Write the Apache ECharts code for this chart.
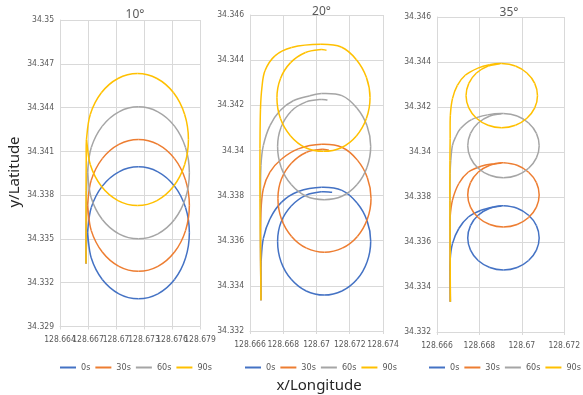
<!DOCTYPE html>
<html>
<head>
<meta charset="utf-8">
<script src="https://cdn.jsdelivr.net/npm/echarts@6/dist/echarts.min.js"></script>
<style>html,body{margin:0;padding:0;background:#fff;}#c{width:583px;height:395px;}</style>
</head>
<body>
<div id="c"></div>
<script>
// ---- labels ----
const panelTitles = ['10°', '20°', '35°'];
const seriesNames = ['0s', '30s', '60s', '90s'];
const xTitle = 'x/Longitude';
const yTitle = 'y/Latitude';

// ---- axis ranges (min, max, interval) ----
const xRange10 = [128.664, 128.679, 0.003];
const yRange10 = [34.329, 34.35, 0.003];
const xRange20 = [128.666, 128.674, 0.002];
const yRange20 = [34.332, 34.346, 0.002];
const xRange35 = [128.666, 128.672, 0.002];
const yRange35 = [34.332, 34.346, 0.002];
// 10° x tick labels (they overlap in the original, so they are split over two label layers)
const xTicks10a = [128.664, 128.67, 128.673, 128.679];
const xTicks10b = [128.667, 128.676];

// ---- 10° trajectories [lon, lat] ----
const p10_0s = [[128.66679,34.33331],[128.66682,34.33440],[128.66694,34.33542],[128.66735,34.33715],[128.66853,34.33862],[128.67031,34.3396],[128.6724,34.33994],[128.67449,34.3396],[128.67627,34.33862],[128.67745,34.33715],[128.67786,34.33542],[128.67745,34.33369],[128.67627,34.33222],[128.67449,34.33124],[128.6724,34.3309],[128.67031,34.33124],[128.66853,34.33222],[128.66735,34.33369],[128.66694,34.33542]];
const p10_30s = [[128.66679,34.33331],[128.6668,34.335],[128.66684,34.3363],[128.66694,34.3373],[128.66735,34.33903],[128.66853,34.3405],[128.67031,34.34148],[128.6724,34.34182],[128.67449,34.34148],[128.67627,34.3405],[128.67745,34.33903],[128.67786,34.3373],[128.67745,34.33557],[128.67627,34.3341],[128.67449,34.33312],[128.6724,34.33278],[128.67031,34.33312],[128.66853,34.3341],[128.66735,34.33557],[128.66694,34.3373]];
const p10_60s = [[128.66679,34.33331],[128.66679,34.33559],[128.66684,34.338],[128.66694,34.33953],[128.66735,34.34126],[128.66853,34.34273],[128.67031,34.34371],[128.6724,34.34405],[128.67449,34.34371],[128.67627,34.34273],[128.67745,34.34126],[128.67786,34.33953],[128.67745,34.3378],[128.67627,34.33633],[128.67449,34.33535],[128.6724,34.33501],[128.67031,34.33535],[128.66853,34.33633],[128.66735,34.3378],[128.66694,34.33953]];
const p10_90s = [[128.66679,34.33331],[128.66679,34.33559],[128.66679,34.33833],[128.66681,34.3404],[128.66684,34.34181],[128.66725,34.34354],[128.66843,34.34501],[128.67021,34.34599],[128.6723,34.34633],[128.67439,34.34599],[128.67617,34.34501],[128.67735,34.34354],[128.67776,34.34181],[128.67735,34.34008],[128.67617,34.33861],[128.67439,34.33763],[128.6723,34.33729],[128.67021,34.33763],[128.66843,34.33861],[128.66725,34.34008],[128.66684,34.34181]];

// ---- 20° trajectories ----
const p20_0s = [[128.66666,34.33336],[128.66666,34.33423],[128.66667,34.33507],[128.6668,34.33609],[128.6672,34.33697],[128.6679,34.33771],[128.6689,34.33818],[128.6703,34.33837],[128.67153,34.33823],[128.67244,34.33767],[128.67304,34.33689],[128.67326,34.33598],[128.67304,34.33506],[128.67244,34.33429],[128.67153,34.33377],[128.67046,34.33359],[128.66938,34.33377],[128.66848,34.33429],[128.66787,34.33506],[128.66766,34.33598],[128.66787,34.33683],[128.66848,34.33754],[128.66938,34.33802],[128.67032,34.33817],[128.67094,34.33815]];
const p20_30s = [[128.66666,34.33336],[128.66664,34.3352],[128.66666,34.33727],[128.6668,34.3383],[128.6672,34.33904],[128.6679,34.33962],[128.6689,34.34007],[128.67032,34.34027],[128.67155,34.34013],[128.67246,34.33957],[128.67306,34.33879],[128.67328,34.33788],[128.67306,34.33696],[128.67246,34.33619],[128.67155,34.33567],[128.67048,34.33549],[128.6694,34.33567],[128.6685,34.33619],[128.66789,34.33696],[128.66768,34.33788],[128.66789,34.33873],[128.6685,34.33944],[128.6694,34.33992],[128.67034,34.34005],[128.67074,34.34002]];
const p20_60s = [[128.66666,34.33336],[128.66663,34.33565],[128.66663,34.33786],[128.66666,34.33933],[128.6668,34.34021],[128.6672,34.3411],[128.6678,34.34176],[128.6686,34.3422],[128.6696,34.34242],[128.6703,34.34252],[128.67153,34.34243],[128.67244,34.34187],[128.67304,34.34109],[128.67326,34.34018],[128.67304,34.33926],[128.67244,34.33849],[128.67153,34.33797],[128.67046,34.33782],[128.66938,34.33797],[128.66848,34.33849],[128.66787,34.33926],[128.66766,34.34018],[128.66787,34.34103],[128.66848,34.34174],[128.66938,34.34215],[128.67032,34.34226],[128.67066,34.34223]];
const p20_90s = [[128.66666,34.33336],[128.66663,34.33565],[128.6666,34.33786],[128.6666,34.34007],[128.66663,34.34183],[128.66672,34.34281],[128.6669,34.34353],[128.6675,34.34419],[128.6685,34.34456],[128.67026,34.3447],[128.67149,34.34458],[128.6724,34.34402],[128.673,34.34324],[128.67322,34.34233],[128.673,34.34141],[128.6724,34.34064],[128.67149,34.34012],[128.67042,34.33996],[128.66934,34.34012],[128.66844,34.34064],[128.66783,34.34141],[128.66762,34.34233],[128.66783,34.34318],[128.66844,34.34389],[128.66934,34.34434],[128.67028,34.34447],[128.6706,34.34444]];

// ---- 35° trajectories ----
const p35_0s = [[128.66663,34.33334],[128.66662,34.33408],[128.66662,34.33519],[128.66673,34.33593],[128.66703,34.3366],[128.66748,34.33711],[128.66808,34.33741],[128.66868,34.33756],[128.66913,34.33761],[128.66978,34.3375],[128.67032,34.33719],[128.67069,34.33673],[128.67082,34.33618],[128.67069,34.33564],[128.67032,34.33518],[128.66978,34.33487],[128.66913,34.33476],[128.66849,34.33487],[128.66794,34.33518],[128.66758,34.33564],[128.66745,34.33618],[128.66758,34.33673],[128.66794,34.33719],[128.66849,34.3375],[128.66904,34.3376]];
const p35_30s = [[128.66663,34.33334],[128.66662,34.33519],[128.66662,34.33652],[128.66662,34.33711],[128.66673,34.33786],[128.66703,34.3386],[128.66748,34.33911],[128.66808,34.33937],[128.66868,34.33948],[128.66913,34.33952],[128.66978,34.33941],[128.67032,34.3391],[128.67069,34.33864],[128.67082,34.33809],[128.67069,34.33755],[128.67032,34.33709],[128.66978,34.33678],[128.66913,34.33667],[128.66849,34.33678],[128.66794,34.33709],[128.66758,34.33755],[128.66745,34.33809],[128.66758,34.33864],[128.66794,34.3391],[128.66849,34.33941],[128.66904,34.33951]];
const p35_60s = [[128.66663,34.33334],[128.66662,34.33564],[128.66661,34.33786],[128.66662,34.33904],[128.66665,34.33963],[128.66673,34.3403],[128.66688,34.34067],[128.66711,34.34104],[128.66763,34.34144],[128.66838,34.34165],[128.66913,34.34171],[128.66978,34.3416],[128.67032,34.34129],[128.67069,34.34083],[128.67082,34.34028],[128.67069,34.33974],[128.67032,34.33928],[128.66978,34.33897],[128.66913,34.33886],[128.66849,34.33897],[128.66794,34.33928],[128.66758,34.33974],[128.66745,34.34028],[128.66758,34.34083],[128.66794,34.34129],[128.66849,34.3416],[128.66904,34.3417]];
const p35_90s = [[128.66663,34.33334],[128.66662,34.33564],[128.66661,34.33786],[128.66661,34.33963],[128.66662,34.34059],[128.66663,34.34163],[128.66673,34.34237],[128.66696,34.34296],[128.66733,34.34341],[128.66793,34.34373],[128.66847,34.34388],[128.66905,34.34393],[128.6697,34.34382],[128.67024,34.34351],[128.67061,34.34305],[128.67074,34.3425],[128.67061,34.34196],[128.67024,34.3415],[128.6697,34.34119],[128.66905,34.34108],[128.66841,34.34119],[128.66786,34.3415],[128.6675,34.34196],[128.66737,34.3425],[128.6675,34.34305],[128.66786,34.34351],[128.66841,34.34382],[128.66896,34.34392]];

// ---- build chart ----
const colors = ['#4472C4', '#ED7D31', '#A5A5A5', '#FFC000'];
const panelData = [
  [p10_0s, p10_30s, p10_60s, p10_90s],
  [p20_0s, p20_30s, p20_60s, p20_90s],
  [p35_0s, p35_30s, p35_60s, p35_90s]
];
const xRanges = [xRange10, xRange20, xRange35];
const yRanges = [yRange10, yRange20, yRange35];
const grids = [
  {left: 60, top: 20, width: 140, height: 306.5},
  {left: 250, top: 15, width: 133, height: 316},
  {left: 437, top: 17, width: 134, height: 315}
];
const titlePos = [130, 316.5, 504];
const titleTop = [4, 1, 2];
const legendLeft = [55, 240, 424];

const labelColor = '#595959';
const lineColor = '#d9d9d9';
const smallFont = "'Liberation Sans Narrow','DejaVu Sans Condensed','Arial Narrow',sans-serif";
const fmt = v => String(+v.toFixed(3));

// smooth curve through the data points, positioned by the axes (api.coord)
function makeRenderer(points, color) {
  return function (params, api) {
    if (params.dataIndex !== 0) return null;
    const pts = points.map(p => api.coord(p));
    const n = pts.length;
    const k = 0.34;
    const children = [];
    const cpAt = (i) => {
      const prev = pts[Math.max(i - 1, 0)], next = pts[Math.min(i + 1, n - 1)], cur = pts[i];
      const vx = next[0] - prev[0], vy = next[1] - prev[1];
      const l0 = Math.hypot(cur[0] - prev[0], cur[1] - prev[1]);
      const l1 = Math.hypot(next[0] - cur[0], next[1] - cur[1]);
      const r = (l0 + l1) > 0 ? l1 / (l0 + l1) : 0.5;
      return {
        out: [cur[0] + vx * k * r, cur[1] + vy * k * r],
        inn: [cur[0] - vx * k * (1 - r), cur[1] - vy * k * (1 - r)]
      };
    };
    const cps = pts.map((_, i) => cpAt(i));
    for (let i = 0; i < n - 1; i++) {
      children.push({
        type: 'bezierCurve',
        shape: {
          x1: pts[i][0], y1: pts[i][1], x2: pts[i + 1][0], y2: pts[i + 1][1],
          cpx1: cps[i].out[0], cpy1: cps[i].out[1], cpx2: cps[i + 1].inn[0], cpy2: cps[i + 1].inn[1]
        },
        style: {stroke: color, lineWidth: 1.5, fill: null}
      });
    }
    return {type: 'group', children: children};
  };
}

const baseXLabel = {formatter: fmt, fontSize: 8.5, color: labelColor, fontFamily: smallFont, margin: 9,
  hideOverlap: false, showMinLabel: true, showMaxLabel: true};

const xAxes = [0, 1, 2].map(i => ({
  type: 'value', gridIndex: i, position: 'bottom', min: xRanges[i][0], max: xRanges[i][1], interval: xRanges[i][2],
  axisLine: {show: true, lineStyle: {color: lineColor}},
  axisTick: {show: true, length: 3, lineStyle: {color: lineColor}},
  splitLine: {show: true, lineStyle: {color: lineColor, width: 1}},
  axisLabel: i === 0 ? Object.assign({customValues: xTicks10a}, baseXLabel) : Object.assign({}, baseXLabel)
}));
// second label layer for the 10° panel (same scale, labels only)
xAxes.push({
  type: 'value', gridIndex: 0, position: 'bottom', offset: 0,
  min: xRange10[0], max: xRange10[1], interval: xRange10[2],
  axisLine: {show: false}, axisTick: {show: false}, splitLine: {show: false},
  axisLabel: Object.assign({customValues: xTicks10b}, baseXLabel)
});

const option = {
  animation: false,
  color: colors,
  grid: grids.map(g => Object.assign({containLabel: false}, g)),
  title: panelTitles.map((t, i) => ({
    text: t, left: titlePos[i], top: titleTop[i], textAlign: 'center',
    textStyle: {fontSize: 12, fontWeight: 'normal', color: labelColor, fontFamily: 'Noto Sans, sans-serif'}
  })).concat([{
    text: xTitle, left: 314, top: 373, textAlign: 'center',
    textStyle: {fontSize: 15, fontWeight: 'normal', color: '#262626', fontFamily: 'Noto Sans, sans-serif'}
  }]),
  graphic: [{
    type: 'text', x: 15, y: 172, rotation: Math.PI / 2,
    style: {text: yTitle, align: 'center', verticalAlign: 'middle', fontSize: 15, fill: '#262626', fontFamily: 'Noto Sans, sans-serif'}
  }],
  legend: [0, 1, 2].map(i => ({
    data: seriesNames, left: legendLeft[i], top: 358, width: 170, icon: 'rect', itemWidth: 16, itemHeight: 2,
    itemGap: 5, selectedMode: false,
    textStyle: {fontSize: 9, color: labelColor, fontFamily: smallFont}
  })),
  xAxis: xAxes,
  yAxis: [0, 1, 2].map(i => ({
    type: 'value', gridIndex: i, min: yRanges[i][0], max: yRanges[i][1], interval: yRanges[i][2],
    axisLine: {show: true, lineStyle: {color: lineColor}},
    axisTick: {show: false},
    splitLine: {show: true, lineStyle: {color: lineColor, width: 1}},
    axisLabel: {formatter: fmt, fontSize: 8.5, color: labelColor, fontFamily: smallFont, margin: 6,
      showMinLabel: true, showMaxLabel: true}
  })),
  series: []
};
panelData.forEach((arr, pi) => {
  arr.forEach((d, si) => {
    option.series.push({
      type: 'custom', name: seriesNames[si], coordinateSystem: 'cartesian2d',
      xAxisIndex: pi, yAxisIndex: pi, data: d, encode: {x: 0, y: 1},
      renderItem: makeRenderer(d, colors[si]), clip: false,
      itemStyle: {color: colors[si]}
    });
  });
});
const chart = echarts.init(document.getElementById('c'), null, {renderer: 'canvas'});
chart.setOption(option);
</script>
</body>
</html>
